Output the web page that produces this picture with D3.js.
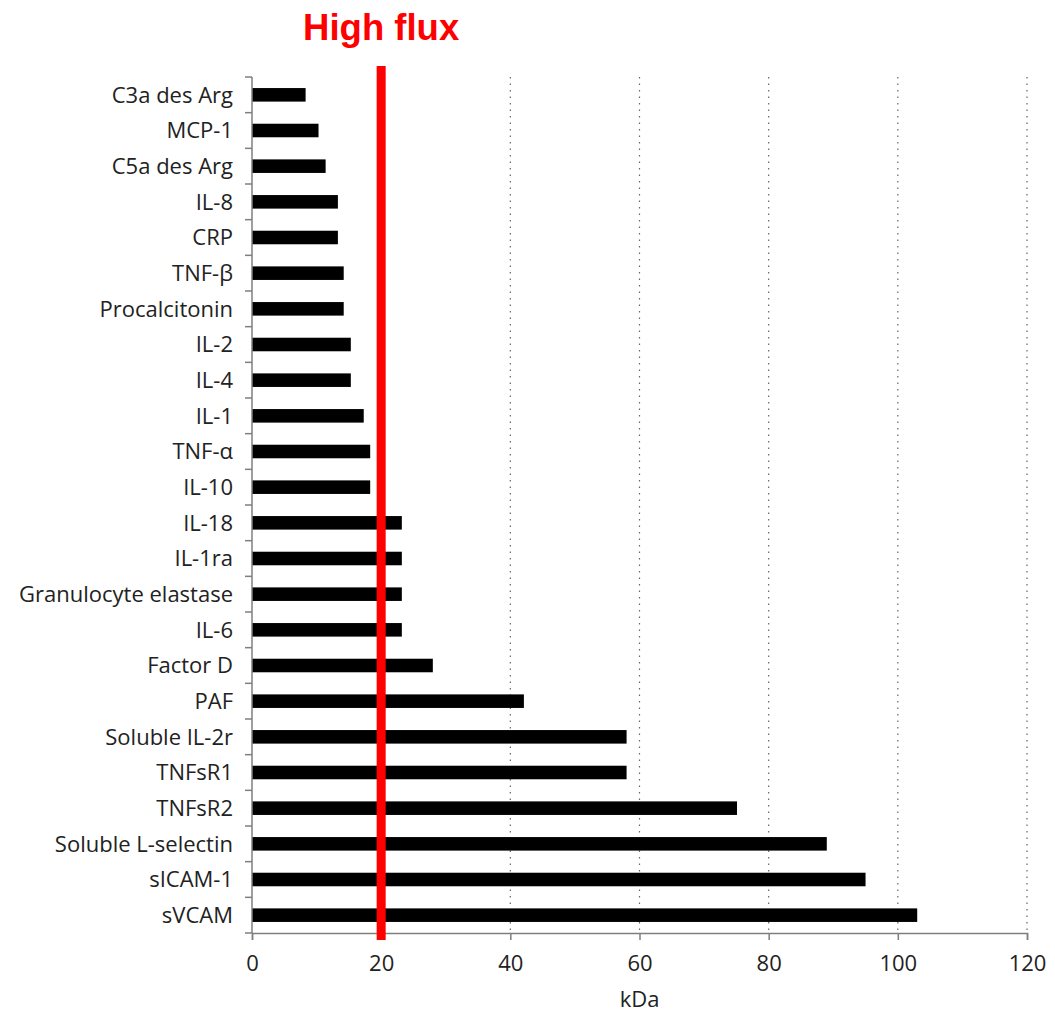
<!DOCTYPE html>
<html><head><meta charset="utf-8">
<script src="https://cdn.jsdelivr.net/npm/d3@7"></script>
<style>body{margin:0;background:#fff}</style>
</head><body>
<svg id="c" width="1055" height="1016"></svg>
<script>
const categories = ["C3a des Arg","MCP-1","C5a des Arg","IL-8","CRP","TNF-β","Procalcitonin","IL-2","IL-4","IL-1","TNF-α","IL-10","IL-18","IL-1ra","Granulocyte elastase","IL-6","Factor D","PAF","Soluble IL-2r","TNFsR1","TNFsR2","Soluble L-selectin","sICAM-1","sVCAM"];
const values = [8.3,10.3,11.4,13.3,13.3,14.2,14.2,15.3,15.3,17.3,18.3,18.3,23.2,23.2,23.2,23.2,28,42.1,58,58,75.1,89,95,103];
const xTicks = [0,20,40,60,80,100,120];
const highFlux = 20;
const titleText = "High flux";
const xLabel = "kDa";

const svg = d3.select("#c");
const m = {left:252, right:1027, top:77, bottom:933};
const x = d3.scaleLinear().domain([0,120]).range([m.left, m.right]);
const y = d3.scaleBand().domain(categories).range([m.top, m.bottom]).paddingInner(0.62).paddingOuter(0.31);
const font = "'Open Sans', 'Noto Sans', sans-serif";
const fs = 22;
const txt = "#222";

// gridlines
svg.append("g").selectAll("line").data(xTicks.filter(d=>d>0)).join("line")
  .attr("x1", d=>x(d)).attr("x2", d=>x(d)).attr("y1", m.top).attr("y2", m.bottom)
  .attr("stroke", "#666").attr("stroke-width", 1.2).attr("stroke-dasharray", "1.5,5");

// bars
svg.append("g").selectAll("rect").data(categories).join("rect")
  .attr("x", x(0)).attr("y", d=>y(d)).attr("height", y.bandwidth())
  .attr("width", (d,i)=>x(values[i])-x(0)).attr("fill", "#000");

// x axis
const xAxis = svg.append("g").attr("transform", `translate(0,${m.bottom})`)
  .call(d3.axisBottom(x).tickValues(xTicks).tickSize(7).tickPadding(15));
xAxis.select(".domain").attr("stroke", "#7f7f7f").attr("stroke-width", 1.5);
xAxis.selectAll(".tick line").attr("stroke", "#7f7f7f").attr("stroke-width", 1.5);
xAxis.selectAll("text").attr("font-family", font).attr("font-size", fs).attr("fill", txt);

// y axis: category separators as ticks
const yAxisG = svg.append("g").attr("transform", `translate(${m.left},0)`);
yAxisG.append("line").attr("x1",0).attr("x2",0).attr("y1",m.top).attr("y2",m.bottom)
  .attr("stroke","#7f7f7f").attr("stroke-width",1.5);
const step = y.step();
const seps = d3.range(categories.length+1).map(i => m.top + i*step);
yAxisG.selectAll("line.sep").data(seps).join("line").attr("class","sep")
  .attr("x1",-7).attr("x2",0).attr("y1",d=>d).attr("y2",d=>d)
  .attr("stroke","#7f7f7f").attr("stroke-width",1.5);
yAxisG.selectAll("text").data(categories).join("text")
  .attr("x",-19).attr("y", d=>y(d)+y.bandwidth()/2).attr("dy","0.35em")
  .attr("text-anchor","end").attr("font-family",font).attr("font-size",fs).attr("fill",txt)
  .text(d=>d);

// x label
svg.append("text").attr("x", (m.left+m.right)/2).attr("y", 1007).attr("text-anchor","middle")
  .attr("font-family",font).attr("font-size",fs).attr("fill",txt).text(xLabel);

// red line
svg.append("rect").attr("x", x(highFlux)-4.5).attr("width", 9).attr("y", 66).attr("height", 874).attr("fill", "#ff0000");

// title
svg.append("text").attr("x", x(highFlux)).attr("y", 40).attr("text-anchor","middle")
  .attr("font-family","'Liberation Sans', Arial, sans-serif").attr("font-weight","bold")
  .attr("font-size",36.5).attr("fill","#ff0000").text(titleText);
</script>
</body></html>
